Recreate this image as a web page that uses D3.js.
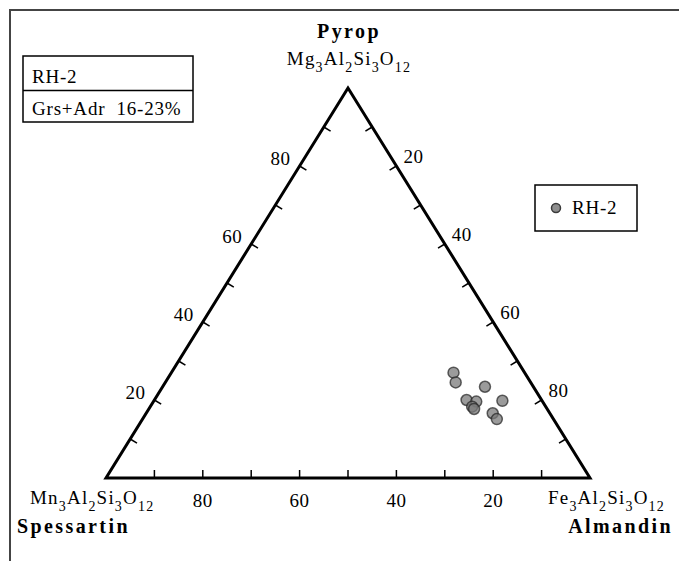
<!DOCTYPE html>
<html>
<head>
<meta charset="utf-8">
<script src="https://cdn.jsdelivr.net/npm/d3@7"></script>
<style>
  body { margin: 0; background: #fff; }
  text { font-family: "Liberation Serif", "Times New Roman", serif; fill: #000; }
</style>
</head>
<body>
<svg id="ternary"></svg>
<script>
const width = 679;
const height = 561;

// Garnet end-member proportions (mol %)
const almandin = [58.3, 60.0, 66.6, 64.5, 66.7, 66.5, 67.2, 72.0, 71.6, 73.2];
const pyrop = [27.0, 24.5, 23.4, 20.0, 19.6, 18.3, 17.7, 19.8, 16.6, 15.1];
const spessartin = [14.7, 15.5, 10.0, 15.5, 13.7, 15.2, 15.1, 8.2, 11.8, 11.7];

const tickSteps = [10, 20, 30, 40, 50, 60, 70, 80, 90];
const tickLabels = [20, 40, 60, 80];

const sampleName = "RH-2";
const infoLines = ["RH-2", "Grs+Adr  16-23%"];

const svg = d3.select("#ternary").attr("width", width).attr("height", height);

// triangle corners live at x 106..590 and y 478..88
const xScale = d3.scaleLinear().domain([0, 100]).range([106, 590]);
const yScale = d3.scaleLinear().domain([0, 100]).range([478, 88]);

// ternary -> screen (alm to the right, prp to the top)
const px = (alm, prp) => xScale(alm + prp / 2);
const py = (prp) => yScale(prp);

const points = almandin.map((a, i) => ({ alm: a, prp: pyrop[i], sps: spessartin[i] }));

// outer frame (only top and left edge fall inside the picture)
svg.append("path")
  .attr("d", "M10,561 V10 H679")
  .attr("fill", "none")
  .attr("stroke", "#444")
  .attr("stroke-width", 2);

// triangle
const corners = [[0, 100], [0, 0], [100, 0]];
svg.append("path")
  .attr("d", "M" + corners.map((c) => px(c[0], c[1]) + "," + py(c[1])).join("L") + "Z")
  .attr("fill", "none")
  .attr("stroke", "#000")
  .attr("stroke-width", 3)
  .attr("stroke-linejoin", "miter");

// ticks, perpendicular to each side pointing inward
const tickLen = 8;
function edgeTicks(pointOf, nx, ny) {
  svg.append("g").selectAll("line")
    .data(tickSteps)
    .enter()
    .append("line")
    .attr("x1", (v) => pointOf(v)[0])
    .attr("y1", (v) => pointOf(v)[1])
    .attr("x2", (v) => pointOf(v)[0] + nx * tickLen)
    .attr("y2", (v) => pointOf(v)[1] + ny * tickLen)
    .attr("stroke", "#000")
    .attr("stroke-width", 1.5);
}
const leftDir = [xScale(50) - xScale(0), yScale(100) - yScale(0)];
const rightDir = [xScale(100) - xScale(50), yScale(0) - yScale(100)];
const ln = Math.hypot(leftDir[0], leftDir[1]);
const rn = Math.hypot(rightDir[0], rightDir[1]);

edgeTicks((v) => [px(v, 0), py(0)], 0, -1);
edgeTicks((v) => [px(0, v), py(v)], -leftDir[1] / ln, leftDir[0] / ln);
edgeTicks((v) => [px(v, 100 - v), py(100 - v)], -rightDir[1] / rn, rightDir[0] / rn);

// tick labels
const labelStyle = (sel) => sel.style("font-size", "19px").style("letter-spacing", "0.5px");

svg.append("g").selectAll("text")
  .data(tickLabels)
  .enter()
  .append("text")
  .attr("x", (v) => px(v, 0))
  .attr("y", 507)
  .attr("text-anchor", "middle")
  .text((v) => 100 - v)
  .call(labelStyle);

svg.append("g").selectAll("text")
  .data(tickLabels)
  .enter()
  .append("text")
  .attr("x", (v) => px(0, v) - 9)
  .attr("y", (v) => py(v) - 1)
  .attr("text-anchor", "end")
  .text((v) => v)
  .call(labelStyle);

svg.append("g").selectAll("text")
  .data(tickLabels)
  .enter()
  .append("text")
  .attr("x", (v) => px(v, 100 - v) + 7)
  .attr("y", (v) => py(100 - v) - 3)
  .attr("text-anchor", "start")
  .text((v) => v)
  .call(labelStyle);

// end-member names and formulas
function formula(x, y, anchor, metal) {
  const parts = [[metal, 0], ["3", 1], ["Al", 0], ["2", 1], ["Si", 0], ["3", 1], ["O", 0], ["12", 1]];
  const t = svg.append("text")
    .attr("x", x)
    .attr("y", y)
    .attr("text-anchor", anchor)
    .style("letter-spacing", "1.2px");
  let down = false;
  parts.forEach((p) => {
    const sp = t.append("tspan").text(p[0]);
    if (p[1] && !down) { sp.attr("dy", 7); down = true; }
    if (!p[1] && down) { sp.attr("dy", -7); down = false; }
    sp.style("font-size", p[1] ? "14px" : "19px");
  });
}

function endName(x, y, anchor, name) {
  svg.append("text")
    .attr("x", x)
    .attr("y", y)
    .attr("text-anchor", anchor)
    .style("font-size", "20px")
    .style("font-weight", "bold")
    .style("letter-spacing", "2.4px")
    .text(name);
}

endName(349, 38, "middle", "Pyrop");
formula(349, 65, "middle", "Mg");
formula(30, 504, "start", "Mn");
endName(17, 533, "start", "Spessartin");
formula(548, 504, "start", "Fe");
endName(673, 533, "end", "Almandin");

// data points
svg.append("g").selectAll("circle")
  .data(points)
  .enter()
  .append("circle")
  .attr("cx", (d) => px(d.alm, d.prp))
  .attr("cy", (d) => py(d.prp))
  .attr("r", 5.5)
  .attr("fill", "#7a7a7a")
  .attr("fill-opacity", 0.75)
  .attr("stroke", "#222")
  .attr("stroke-opacity", 0.7)
  .attr("stroke-width", 1.5);

// info box top left
svg.append("rect")
  .attr("x", 23).attr("y", 56)
  .attr("width", 170).attr("height", 66)
  .attr("fill", "#fff")
  .attr("stroke", "#000")
  .attr("stroke-width", 1.5);
svg.append("line")
  .attr("x1", 23).attr("x2", 193)
  .attr("y1", 90.5).attr("y2", 90.5)
  .attr("stroke", "#000")
  .attr("stroke-width", 1.5);
svg.append("g").selectAll("text")
  .data(infoLines)
  .enter()
  .append("text")
  .attr("x", 32)
  .attr("y", (d, i) => 83 + i * 32)
  .style("font-size", "19px")
  .style("letter-spacing", "0.8px")
  .style("white-space", "pre")
  .text((d) => d);

// legend
svg.append("rect")
  .attr("x", 535).attr("y", 185)
  .attr("width", 102).attr("height", 46)
  .attr("fill", "#fff")
  .attr("stroke", "#000")
  .attr("stroke-width", 1.5);
svg.append("circle")
  .attr("cx", 556).attr("cy", 208)
  .attr("r", 4.5)
  .attr("fill", "#7a7a7a")
  .attr("fill-opacity", 0.85)
  .attr("stroke", "#3a3a3a")
  .attr("stroke-width", 1.5);
svg.append("text")
  .attr("x", 572).attr("y", 214)
  .style("font-size", "19px")
  .style("letter-spacing", "0.8px")
  .text(sampleName);
</script>
</body>
</html>
